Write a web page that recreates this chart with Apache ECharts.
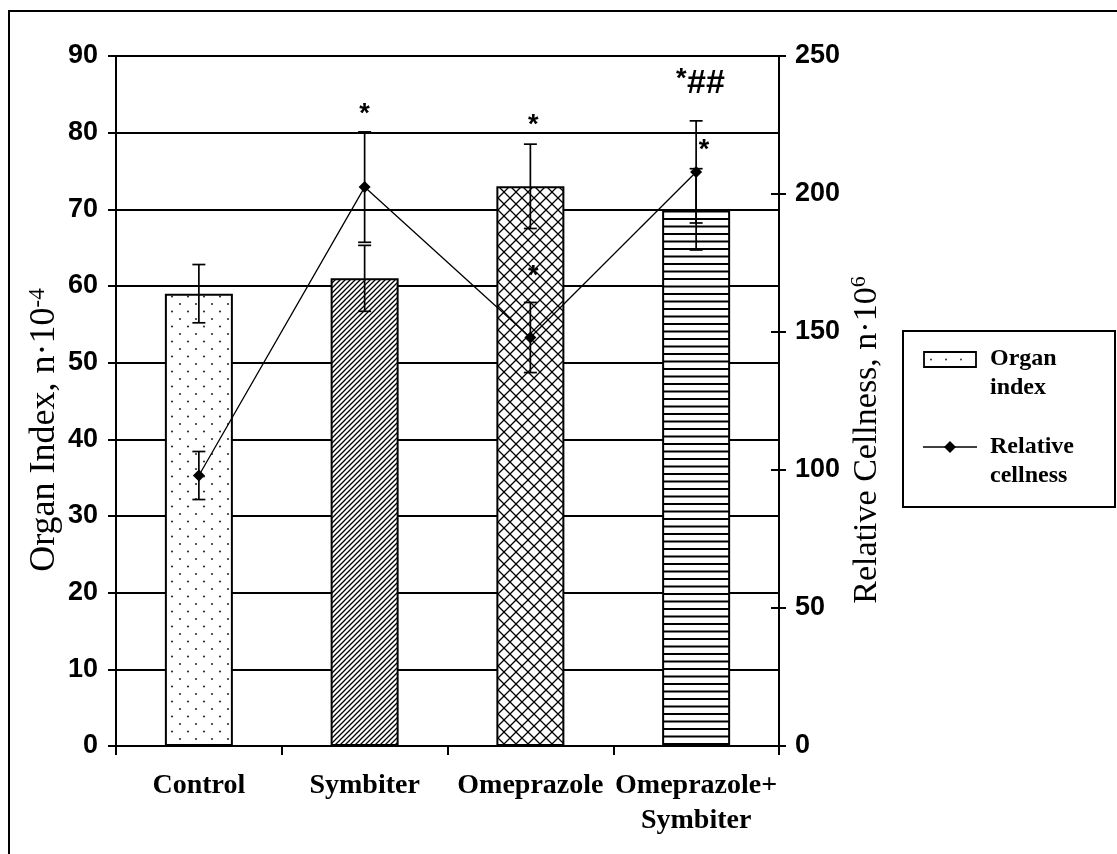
<!DOCTYPE html>
<html>
<head>
<meta charset="utf-8">
<script src="https://cdn.jsdelivr.net/npm/echarts@6/dist/echarts.min.js"></script>
<style>
html,body{margin:0;padding:0;background:#fff;}
#chart{width:1117px;height:854px;}
</style>
</head>
<body>
<div id="chart"></div>
<script>
// ---- data ----
const categories = ['Control', 'Symbiter', 'Omeprazole', 'Omeprazole+\nSymbiter'];
const organIndex = [59, 61, 73, 70];
const organIndexErr = [3.8, 4.3, 5.5, 5.3];
const cellness = [98, 202.5, 148, 208];
const cellnessErr = [8.7, 20, 12.7, 18.5];
const leftTicks = { min: 0, max: 90, interval: 10 };
const rightTicks = { min: 0, max: 250, interval: 50 };
// significance marks: category index, value on left axis, text
const annCat = [1, 2, 3, 3, 2];
const annVal = [83.3, 81.9, 86.7, 78.6, 62.2];
const annText = ['*', '*', '*##', '*', '*'];

// ---- styles ----
const annDx = [0, 3, 4, 8, 3];

function makePattern(w, h, draw) {
  const c = document.createElement('canvas');
  c.width = w; c.height = h;
  const ctx = c.getContext('2d');
  ctx.fillStyle = '#fff';
  ctx.fillRect(0, 0, w, h);
  ctx.strokeStyle = '#000';
  ctx.fillStyle = '#000';
  draw(ctx, w, h);
  return { image: c, repeat: 'repeat' };
}
const patDots = makePattern(16, 15, (ctx) => {
  ctx.fillStyle = '#333';
  ctx.beginPath(); ctx.arc(4, 4, 1.1, 0, Math.PI * 2); ctx.fill();
  ctx.beginPath(); ctx.arc(12, 11.5, 1.1, 0, Math.PI * 2); ctx.fill();
});
const patDiag = makePattern(5, 5, (ctx, w, h) => {
  ctx.lineWidth = 1.3;
  ctx.beginPath();
  ctx.moveTo(0, h); ctx.lineTo(w, 0);
  ctx.moveTo(-1, 1); ctx.lineTo(1, -1);
  ctx.moveTo(w - 1, h + 1); ctx.lineTo(w + 1, h - 1);
  ctx.stroke();
});
const patCross = makePattern(12, 12, (ctx, w, h) => {
  ctx.lineWidth = 1.3;
  ctx.beginPath();
  ctx.moveTo(0, 0); ctx.lineTo(w, h);
  ctx.moveTo(0, h); ctx.lineTo(w, 0);
  ctx.stroke();
});
const patHoriz = makePattern(8, 15, (ctx, w) => {
  ctx.lineWidth = 1.8;
  ctx.beginPath();
  ctx.moveTo(0, 1.5); ctx.lineTo(w, 1.5);
  ctx.moveTo(0, 9); ctx.lineTo(w, 9);
  ctx.stroke();
});
const barPatterns = [patDots, patDiag, patCross, patHoriz];

const chart = echarts.init(document.getElementById('chart'), null, { renderer: 'canvas' });

function errRender(params, api) {
  const x = api.value(0), y = api.value(1), e = api.value(2);
  const t = api.coord([x, y + e]);
  const b = api.coord([x, y - e]);
  const hw = 6.5;
  const st = { stroke: '#000', lineWidth: 1.7 };
  return {
    type: 'group',
    children: [
      { type: 'line', shape: { x1: t[0], y1: t[1], x2: b[0], y2: b[1] }, style: st },
      { type: 'line', shape: { x1: t[0] - hw, y1: t[1], x2: t[0] + hw, y2: t[1] }, style: st },
      { type: 'line', shape: { x1: b[0] - hw, y1: b[1], x2: b[0] + hw, y2: b[1] }, style: st }
    ]
  };
}

const starFont = 'bold 27px "Liberation Sans", Arial, sans-serif';

const option = {
  backgroundColor: '#fff',
  animation: false,
  grid: { left: 116, right: 338, top: 56, bottom: 108, containLabel: false },
  xAxis: {
    type: 'category',
    data: categories,
    boundaryGap: true,
    axisLine: { show: true, lineStyle: { color: '#000', width: 2 } },
    axisTick: { show: true, length: 9, alignWithLabel: false, interval: 0, lineStyle: { color: '#000', width: 2 } },
    axisLabel: {
      interval: 0, margin: 22, color: '#000',
      fontFamily: '"Liberation Serif", "Times New Roman", serif', fontWeight: 'bold', fontSize: 28, lineHeight: 35
    },
    splitLine: { show: false }
  },
  yAxis: [
    {
      type: 'value', min: leftTicks.min, max: leftTicks.max, interval: leftTicks.interval, position: 'left',
      axisLine: { show: true, lineStyle: { color: '#000', width: 2 } },
      axisTick: { show: true, inside: false, length: 8, lineStyle: { color: '#000', width: 2 } },
      axisLabel: { margin: 18, color: '#000', fontFamily: '"Liberation Sans Narrow", "Liberation Sans", Arial, sans-serif', fontWeight: 'bold', fontSize: 27 },
      splitLine: { show: true, lineStyle: { color: '#000', width: 2 } }
    },
    {
      type: 'value', min: rightTicks.min, max: rightTicks.max, interval: rightTicks.interval, position: 'right',
      axisLine: { show: true, onZero: false, lineStyle: { color: '#000', width: 2 } },
      axisTick: { show: true, inside: false, length: 7, lineStyle: { color: '#000', width: 2 } },
      axisLabel: { margin: 16, color: '#000', fontFamily: '"Liberation Sans Narrow", "Liberation Sans", Arial, sans-serif', fontWeight: 'bold', fontSize: 27 },
      splitLine: { show: false }
    },
    {
      type: 'value', min: rightTicks.min, max: rightTicks.max, interval: rightTicks.interval, position: 'right',
      axisLine: { show: false },
      axisTick: { show: true, inside: true, length: 8, lineStyle: { color: '#000', width: 2 } },
      axisLabel: { show: false },
      splitLine: { show: false }
    }
  ],
  series: [
    {
      name: 'Organ index', type: 'bar', yAxisIndex: 0, barWidth: 68, z: 2,
      data: organIndex.map((v, i) => ({
        value: v,
        itemStyle: { color: barPatterns[i], borderColor: '#000', borderWidth: 2 }
      })),
      emphasis: { disabled: true }
    },
    {
      name: 'Organ index err', type: 'custom', yAxisIndex: 0, z: 5,
      data: organIndex.map((v, i) => [i, v, organIndexErr[i]]),
      encode: { x: 0, y: 1 },
      renderItem: errRender
    },
    {
      name: 'Relative cellness', type: 'line', yAxisIndex: 1, z: 4,
      data: cellness,
      symbol: 'diamond', symbolSize: 12,
      lineStyle: { color: '#000', width: 1.3 },
      itemStyle: { color: '#000' },
      emphasis: { disabled: true }
    },
    {
      name: 'Relative cellness err', type: 'custom', yAxisIndex: 1, z: 5,
      data: cellness.map((v, i) => [i, v, cellnessErr[i]]),
      encode: { x: 0, y: 1 },
      renderItem: errRender
    },
    {
      name: 'marks', type: 'custom', yAxisIndex: 0, z: 6,
      data: annCat.map((c, i) => [c, annVal[i], i]),
      encode: { x: 0, y: 1 },
      renderItem: function (params, api) {
        const idx = api.value(2);
        const p = api.coord([api.value(0), api.value(1)]);
        const txt = annText[idx];
        const isBig = txt.length > 1;
        return {
          type: 'text',
          x: p[0] + annDx[idx],
          y: p[1] + (isBig ? 2 : 7),
          style: isBig ? {
            text: '{a|*}{b|##}',
            align: 'center', verticalAlign: 'middle',
            rich: {
              a: { font: starFont, fill: '#000', verticalAlign: 'top' },
              b: { font: 'italic bold 34px "Liberation Sans", Arial, sans-serif', fill: '#000' }
            }
          } : {
            text: txt, font: starFont, fill: '#000', align: 'center', verticalAlign: 'middle'
          }
        };
      }
    }
  ],
  graphic: [
    { type: 'rect', shape: { x: 9, y: 11, width: 1200, height: 1000 }, style: { fill: 'none', stroke: '#000', lineWidth: 2 }, z: 100 },
    {
      type: 'text', x: 45, y: 430, rotation: Math.PI / 2,
      style: {
        text: 'Organ Index, n·10{sup|-4}',
        font: '36px "Liberation Serif", "Times New Roman", serif',
        fill: '#000', align: 'center', verticalAlign: 'middle',
        rich: { sup: { font: '23px "Liberation Serif", "Times New Roman", serif', fill: '#000', verticalAlign: 'top', padding: [0, 0, 15, 0] } }
      }
    },
    {
      type: 'text', x: 867, y: 440, rotation: Math.PI / 2,
      style: {
        text: 'Relative Cellness, n·10{sup|6}',
        font: '34px "Liberation Serif", "Times New Roman", serif',
        fill: '#000', align: 'center', verticalAlign: 'middle',
        rich: { sup: { font: '22px "Liberation Serif", "Times New Roman", serif', fill: '#000', verticalAlign: 'top', padding: [0, 0, 15, 0] } }
      }
    },
    // legend
    { type: 'rect', shape: { x: 903, y: 331, width: 212, height: 176 }, style: { fill: '#fff', stroke: '#000', lineWidth: 2 }, z: 50 },
    { type: 'rect', shape: { x: 924, y: 352, width: 52, height: 15 }, style: { fill: '#fff', stroke: '#000', lineWidth: 1.8 }, z: 51 },
    { type: 'circle', shape: { cx: 931, cy: 359.5, r: 1 }, style: { fill: '#333' }, z: 52 },
    { type: 'circle', shape: { cx: 946, cy: 359.5, r: 1 }, style: { fill: '#333' }, z: 52 },
    { type: 'circle', shape: { cx: 961, cy: 359.5, r: 1 }, style: { fill: '#333' }, z: 52 },
    { type: 'line', shape: { x1: 923, y1: 447, x2: 977, y2: 447 }, style: { stroke: '#000', lineWidth: 1.5 }, z: 51 },
    { type: 'polygon', shape: { points: [[950, 441], [956, 447], [950, 453], [944, 447]] }, style: { fill: '#000' }, z: 52 },
    { type: 'text', x: 990, y: 359, style: { text: 'Organ', font: 'bold 24px "Liberation Serif", serif', fill: '#000', verticalAlign: 'middle' }, z: 52 },
    { type: 'text', x: 990, y: 388, style: { text: 'index', font: 'bold 24px "Liberation Serif", serif', fill: '#000', verticalAlign: 'middle' }, z: 52 },
    { type: 'text', x: 990, y: 447, style: { text: 'Relative', font: 'bold 24px "Liberation Serif", serif', fill: '#000', verticalAlign: 'middle' }, z: 52 },
    { type: 'text', x: 990, y: 476, style: { text: 'cellness', font: 'bold 24px "Liberation Serif", serif', fill: '#000', verticalAlign: 'middle' }, z: 52 }
  ]
};
chart.setOption(option);
</script>
</body>
</html>
